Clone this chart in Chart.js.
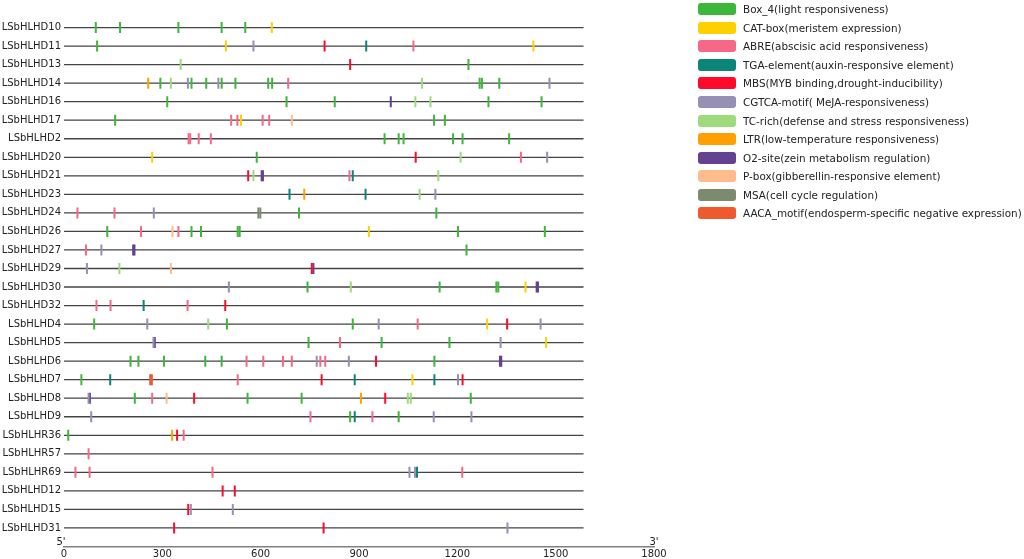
<!DOCTYPE html>
<html>
<head>
<meta charset="utf-8">
<script src="https://cdn.jsdelivr.net/npm/chart.js@4.4.1/dist/chart.umd.min.js"></script>
<style>
  html, body { margin: 0; padding: 0; background: #fff; }
  #wrap { position: relative; width: 1024px; height: 559px; }
  #legend { position: absolute; left: 698px; top: 0px; font-family: "DejaVu Sans"; font-size: 10.4px; color: #222; }
  .item { height: 18.55px; display: flex; align-items: center; white-space: nowrap; }
  .sw { width: 38px; height: 12px; border-radius: 3px; margin-right: 7px; flex: none; }
</style>
</head>
<body>
<div id="wrap">
  <canvas id="chart" width="1024" height="559"></canvas>
  <div id="legend"></div>
</div>
<script>
// gene rows, top to bottom
var genes = ['LSbHLHD10', 'LSbHLHD11', 'LSbHLHD13', 'LSbHLHD14', 'LSbHLHD16', 'LSbHLHD17', 'LSbHLHD2',
  'LSbHLHD20', 'LSbHLHD21', 'LSbHLHD23', 'LSbHLHD24', 'LSbHLHD26', 'LSbHLHD27', 'LSbHLHD29', 'LSbHLHD30',
  'LSbHLHD32', 'LSbHLHD4', 'LSbHLHD5', 'LSbHLHD6', 'LSbHLHD7', 'LSbHLHD8', 'LSbHLHD9', 'LSbHLHR36',
  'LSbHLHR57', 'LSbHLHR69', 'LSbHLHD12', 'LSbHLHD15', 'LSbHLHD31'];
var geneLength = 1585;
var xTicks = [0, 300, 600, 900, 1200, 1500, 1800];

var motifNames = ['Box_4(light responsiveness)', 'CAT-box(meristem expression)', 'ABRE(abscisic acid responsiveness)',
  'TGA-element(auxin-responsive element)', 'MBS(MYB binding,drought-inducibility)', 'CGTCA-motif( MeJA-responsiveness)',
  'TC-rich(defense and stress responsiveness)', 'LTR(low-temperature responsiveness)', 'O2-site(zein metabolism regulation)',
  'P-box(gibberellin-responsive element)', 'MSA(cell cycle regulation)', 'AACA_motif(endosperm-specific negative expression)'];
var motifColors = ['#3cb73a', '#ffd000', '#f66888', '#0b8577', '#ff0a2a', '#9590b4',
  '#9ddb7d', '#ffa000', '#644191', '#ffbb8c', '#7c8a6e', '#ee5a2e'];

// [gene, position] for every motif type
var box4 = [['LSbHLHD10', 97], ['LSbHLHD10', 171], ['LSbHLHD10', 349], ['LSbHLHD10', 481], ['LSbHLHD10', 553],
  ['LSbHLHD11', 101], ['LSbHLHD13', 1234],
  ['LSbHLHD14', 294], ['LSbHLHD14', 389], ['LSbHLHD14', 434], ['LSbHLHD14', 481], ['LSbHLHD14', 523], ['LSbHLHD14', 623],
  ['LSbHLHD14', 635], ['LSbHLHD14', 1268], ['LSbHLHD14', 1275], ['LSbHLHD14', 1328],
  ['LSbHLHD16', 315], ['LSbHLHD16', 679], ['LSbHLHD16', 826], ['LSbHLHD16', 1295], ['LSbHLHD16', 1457],
  ['LSbHLHD17', 156], ['LSbHLHD17', 1129], ['LSbHLHD17', 1162],
  ['LSbHLHD2', 978], ['LSbHLHD2', 1021], ['LSbHLHD2', 1036], ['LSbHLHD2', 1187], ['LSbHLHD2', 1216], ['LSbHLHD2', 1358],
  ['LSbHLHD20', 588], ['LSbHLHD24', 717], ['LSbHLHD24', 1136],
  ['LSbHLHD26', 132], ['LSbHLHD26', 389], ['LSbHLHD26', 418], ['LSbHLHD26', 530], ['LSbHLHD26', 536], ['LSbHLHD26', 1202], ['LSbHLHD26', 1467],
  ['LSbHLHD27', 1228], ['LSbHLHD30', 743], ['LSbHLHD30', 1146], ['LSbHLHD30', 1319], ['LSbHLHD30', 1325],
  ['LSbHLHD4', 92], ['LSbHLHD4', 497], ['LSbHLHD4', 881],
  ['LSbHLHD5', 746], ['LSbHLHD5', 969], ['LSbHLHD5', 1176],
  ['LSbHLHD6', 203], ['LSbHLHD6', 227], ['LSbHLHD6', 305], ['LSbHLHD6', 431], ['LSbHLHD6', 481], ['LSbHLHD6', 1130],
  ['LSbHLHD7', 53], ['LSbHLHD8', 216], ['LSbHLHD8', 560], ['LSbHLHD8', 725], ['LSbHLHD8', 1241],
  ['LSbHLHD9', 873], ['LSbHLHD9', 1021], ['LSbHLHR36', 13]];
var catBox = [['LSbHLHD10', 634], ['LSbHLHD11', 494], ['LSbHLHD11', 1432], ['LSbHLHD17', 540], ['LSbHLHD20', 269],
  ['LSbHLHD26', 930], ['LSbHLHD30', 1408], ['LSbHLHD4', 1291], ['LSbHLHD5', 1471], ['LSbHLHD7', 1063]];
var abre = [['LSbHLHD11', 1066], ['LSbHLHD14', 684], ['LSbHLHD17', 510], ['LSbHLHD17', 529], ['LSbHLHD17', 606], ['LSbHLHD17', 626],
  ['LSbHLHD2', 380], ['LSbHLHD2', 385], ['LSbHLHD2', 411], ['LSbHLHD2', 448], ['LSbHLHD20', 1394], ['LSbHLHD21', 871],
  ['LSbHLHD24', 41], ['LSbHLHD24', 154], ['LSbHLHD26', 235], ['LSbHLHD26', 349], ['LSbHLHD27', 67],
  ['LSbHLHD32', 99], ['LSbHLHD32', 142], ['LSbHLHD32', 377], ['LSbHLHD4', 1079], ['LSbHLHD5', 842],
  ['LSbHLHD6', 557], ['LSbHLHD6', 608], ['LSbHLHD6', 668], ['LSbHLHD6', 695], ['LSbHLHD6', 782], ['LSbHLHD6', 797],
  ['LSbHLHD7', 530], ['LSbHLHD8', 269], ['LSbHLHD9', 752], ['LSbHLHD9', 941], ['LSbHLHR36', 365], ['LSbHLHR57', 75],
  ['LSbHLHR69', 35], ['LSbHLHR69', 78], ['LSbHLHR69', 453], ['LSbHLHR69', 1215]];
var tgaElement = [['LSbHLHD11', 922], ['LSbHLHD21', 881], ['LSbHLHD23', 688], ['LSbHLHD23', 920], ['LSbHLHD32', 243],
  ['LSbHLHD7', 141], ['LSbHLHD7', 887], ['LSbHLHD7', 1130], ['LSbHLHD9', 887], ['LSbHLHR69', 1077]];
var mbs = [['LSbHLHD11', 795], ['LSbHLHD13', 873], ['LSbHLHD20', 1073], ['LSbHLHD21', 562], ['LSbHLHD29', 756],
  ['LSbHLHD32', 492], ['LSbHLHD4', 1352], ['LSbHLHD6', 952], ['LSbHLHD7', 786], ['LSbHLHD7', 1216],
  ['LSbHLHD8', 397], ['LSbHLHD8', 980], ['LSbHLHR36', 345], ['LSbHLHD12', 484], ['LSbHLHD12', 521],
  ['LSbHLHD15', 379], ['LSbHLHD31', 336], ['LSbHLHD31', 792]];
var cgtca = [['LSbHLHD11', 578], ['LSbHLHD14', 378], ['LSbHLHD14', 471], ['LSbHLHD14', 1481], ['LSbHLHD20', 1474],
  ['LSbHLHD23', 1133], ['LSbHLHD24', 274], ['LSbHLHD27', 114], ['LSbHLHD29', 70], ['LSbHLHD30', 503],
  ['LSbHLHD4', 254], ['LSbHLHD4', 960], ['LSbHLHD4', 1454], ['LSbHLHD5', 273], ['LSbHLHD5', 1332],
  ['LSbHLHD6', 771], ['LSbHLHD6', 869], ['LSbHLHD7', 1202], ['LSbHLHD8', 75],
  ['LSbHLHD9', 83], ['LSbHLHD9', 1128], ['LSbHLHD9', 1243], ['LSbHLHR69', 1054], ['LSbHLHR69', 1071],
  ['LSbHLHD15', 387], ['LSbHLHD15', 515], ['LSbHLHD31', 1353]];
var tcRich = [['LSbHLHD13', 356], ['LSbHLHD14', 326], ['LSbHLHD14', 1092], ['LSbHLHD16', 1072], ['LSbHLHD16', 1118],
  ['LSbHLHD20', 1210], ['LSbHLHD21', 578], ['LSbHLHD21', 1142], ['LSbHLHD23', 1085], ['LSbHLHD29', 169],
  ['LSbHLHD30', 875], ['LSbHLHD4', 440], ['LSbHLHD8', 1049], ['LSbHLHD8', 1058]];
var ltr = [['LSbHLHD14', 257], ['LSbHLHD23', 733], ['LSbHLHD8', 906], ['LSbHLHR36', 330]];
var o2Site = [['LSbHLHD16', 997], ['LSbHLHD21', 603], ['LSbHLHD21', 607], ['LSbHLHD27', 211], ['LSbHLHD27', 215],
  ['LSbHLHD29', 761], ['LSbHLHD30', 1442], ['LSbHLHD30', 1446], ['LSbHLHD5', 277], ['LSbHLHD6', 1330], ['LSbHLHD6', 1334],
  ['LSbHLHD8', 79]];
var pBox = [['LSbHLHD17', 695], ['LSbHLHD26', 331], ['LSbHLHD29', 326], ['LSbHLHD8', 313]];
var msa = [['LSbHLHD24', 593], ['LSbHLHD24', 599]];
var aacaMotif = [['LSbHLHD7', 263], ['LSbHLHD7', 268]];

var motifSites = [box4, catBox, abre, tgaElement, mbs, cgtca, tcRich, ltr, o2Site, pBox, msa, aacaMotif];

// one grey line per gene, gaps between them
var geneLines = [];
genes.forEach(function (g, i) {
  geneLines.push({x: 0, y: i}, {x: geneLength, y: i}, {x: null, y: null});
});

var datasets = [{
  label: 'genes',
  data: geneLines,
  showLine: true,
  spanGaps: false,
  borderColor: '#444',
  borderWidth: 1.3,
  pointRadius: 0,
  pointHoverRadius: 0,
  order: 99
}];
motifSites.forEach(function (sites, k) {
  datasets.push({
    label: motifNames[k],
    data: sites.map(function (s) { return {x: s[1], y: genes.indexOf(s[0])}; }),
    pointStyle: 'line',
    pointRotation: 90,
    pointRadius: 5.5,
    pointHoverRadius: 5.5,
    pointBorderWidth: 2,
    pointBorderColor: motifColors[k],
    pointBackgroundColor: motifColors[k],
    order: 1
  });
});

// 5' and 3' at the ends of the ruler
var endLabels = {
  id: 'endLabels',
  afterDraw: function (chart) {
    var ctx = chart.ctx, x = chart.scales.x;
    ctx.save();
    ctx.font = '10px "DejaVu Sans"';
    ctx.fillStyle = '#222';
    ctx.textAlign = 'center';
    ctx.fillText("5'", x.getPixelForValue(0) - 3, x.top - 1.5);
    ctx.fillText("3'", x.getPixelForValue(1800), x.top - 1.5);
    ctx.restore();
  }
};

var ctx = document.getElementById('chart').getContext('2d');
var chart = new Chart(ctx, {
  type: 'scatter',
  data: {datasets: datasets},
  options: {
    responsive: false,
    animation: false,
    events: [],
    layout: {padding: {top: 7, right: 370, left: 0, bottom: 0}},
    plugins: {legend: {display: false}, tooltip: {enabled: false}},
    scales: {
      x: {
        type: 'linear', min: 0, max: 1800,
        grid: {display: false, drawTicks: false},
        border: {color: '#808080', width: 1.6},
        afterBuildTicks: function (s) { s.ticks = xTicks.map(function (v) { return {value: v}; }); },
        ticks: {padding: 2, color: '#222', maxRotation: 0, font: {family: 'DejaVu Sans', size: 10},
          callback: function (v) { return String(v); }},
        afterFit: function (s) { s.height = 12.5; }
      },
      y: {
        type: 'linear', reverse: true, min: -1, max: 28,
        grid: {display: false, drawTicks: false},
        border: {display: false},
        afterBuildTicks: function (s) { s.ticks = genes.map(function (g, i) { return {value: i}; }); },
        ticks: {autoSkip: false, padding: 3, color: '#222', font: {family: 'DejaVu Sans', size: 10},
          callback: function (v) { return genes[v]; }},
        afterFit: function (s) { s.width = 64; }
      }
    }
  },
  plugins: [endLabels]
});

// legend next to the plot
var legend = document.getElementById('legend');
motifNames.forEach(function (name, k) {
  var item = document.createElement('div');
  item.className = 'item';
  var sw = document.createElement('span');
  sw.className = 'sw';
  sw.style.background = motifColors[k];
  item.appendChild(sw);
  item.appendChild(document.createTextNode(name));
  legend.appendChild(item);
});
</script>
</body>
</html>
